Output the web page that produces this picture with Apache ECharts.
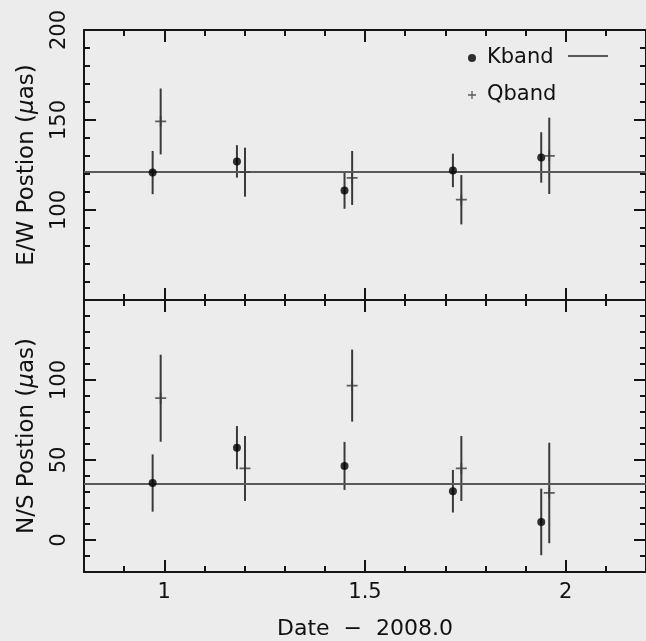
<!DOCTYPE html>
<html><head><meta charset="utf-8">
<script src="https://cdn.jsdelivr.net/npm/echarts@6/dist/echarts.min.js"></script>
<style>html,body{margin:0;padding:0;background:#ececec}#c{width:646px;height:641px}</style>
</head><body><div id="c"></div>
<script>
// ---- data ----
const kDates = [0.971, 1.181, 1.449, 1.719, 1.939];
const qDates = [0.991, 1.201, 1.468, 1.740, 1.959];
const kEW    = [120.8, 127.0, 110.9, 122.0, 129.2];
const kEWErr = [12.0, 9.0, 10.2, 9.3, 14.0];
const qEW    = [149.2, 121.0, 117.8, 105.7, 130.1];
const qEWErr = [18.3, 13.6, 15.0, 13.7, 21.2];
const kNS    = [35.6, 57.7, 46.3, 30.5, 11.3];
const kNSErr = [17.9, 13.5, 15.0, 13.3, 20.8];
const qNS    = [88.6, 44.7, 96.5, 44.7, 29.4];
const qNSErr = [27.2, 20.3, 22.5, 20.3, 31.4];
const ewFit = 121;
const nsFit = 35;
const xTickLabels = [1, 1.5, 2];
const xMajor = [1, 1.5, 2];
const ewTickLabels = [100, 150, 200];
const ewMajor = [50, 100, 150, 200];
const nsTickLabels = [0, 50, 100];
const nsMajor = [0, 50, 100, 150];

// ---- styling ----
const FONT = 'DejaVu Sans';
const AX = '#151515';
const BAR = '#3a3a3a';
const FIT = '#5a5a5a';
const PLUS = 'path://M0,4.2H10V5.8H0Z M4.2,0H5.8V10H4.2Z';

const grids = [
  {left: 84, top: 30, width: 564, height: 270},
  {left: 84, top: 300, width: 564, height: 272}
];

const xAxis = [], yAxis = [];
function addX(gi, showLabels) {
  const base = xAxis.length;
  ['bottom', 'top'].forEach(pos => {
    xAxis.push({type: 'value', gridIndex: gi, position: pos, min: 0.8, max: 2.2, interval: 0.1,
      axisLine: {show: true, onZero: false, lineStyle: {color: AX, width: 2}},
      axisTick: {show: true, inside: true, length: 6, lineStyle: {color: AX, width: 2}},
      axisLabel: {show: false}, splitLine: {show: false}});
    xAxis.push({type: 'value', gridIndex: gi, position: pos, min: 0.8, max: 2.2,
      axisLine: {show: false, onZero: false},
      axisTick: {show: true, inside: true, length: 12, customValues: xMajor, lineStyle: {color: AX, width: 2}},
      axisLabel: {show: showLabels && pos === 'bottom', customValues: xTickLabels, margin: 10,
        fontSize: 21, fontFamily: FONT, color: '#111'},
      splitLine: {show: false},
      name: (showLabels && pos === 'bottom') ? 'Date  \u2212  2008.0' : '',
      nameLocation: 'middle', nameGap: 46,
      nameTextStyle: {fontSize: 22, fontFamily: FONT, color: '#111'}});
  });
  return base;
}
function addY(gi, min, max, major, labels, title) {
  const base = yAxis.length;
  ['left', 'right'].forEach(pos => {
    yAxis.push({type: 'value', gridIndex: gi, position: pos, min: min, max: max, interval: 10,
      axisLine: {show: true, onZero: false, lineStyle: {color: AX, width: 2}},
      axisTick: {show: true, inside: true, length: 6, lineStyle: {color: AX, width: 2}},
      axisLabel: {show: false}, splitLine: {show: false},
      name: pos === 'left' ? title : '', nameLocation: 'middle', nameGap: 45, nameRotate: 90,
      nameTextStyle: {fontSize: 23, fontFamily: FONT, color: '#111',
        rich: {i: {fontSize: 23, fontFamily: FONT, fontStyle: 'italic', color: '#111'}}}});
    yAxis.push({type: 'value', gridIndex: gi, position: pos, min: min, max: max,
      axisLine: {show: false, onZero: false},
      axisTick: {show: true, inside: true, length: 12, customValues: major, lineStyle: {color: AX, width: 2}},
      axisLabel: {show: pos === 'left', customValues: labels, rotate: 90, margin: 14,
        fontSize: 21, fontFamily: FONT, color: '#111'},
      splitLine: {show: false}});
  });
  return base;
}
const x0 = addX(0, false), y0 = addY(0, 50, 200, ewMajor, ewTickLabels, 'E/W Postion ({i|\u03bc}as)');
const x1 = addX(1, true),  y1 = addY(1, -20, 150, nsMajor, nsTickLabels, 'N/S Postion ({i|\u03bc}as)');

function errRender(params, api) {
  const x = api.value(0), lo = api.value(1), hi = api.value(2);
  const p1 = api.coord([x, lo]), p2 = api.coord([x, hi]);
  return {type: 'line', shape: {x1: p1[0], y1: p1[1], x2: p2[0], y2: p2[1]},
    style: {stroke: BAR, lineWidth: 2}};
}
function errData(d, v, e) { return d.map((t, i) => [t, v[i] - e[i], v[i] + e[i]]); }
function pts(d, v) { return d.map((t, i) => [t, v[i]]); }

function panel(xi, yi, kv, ke, qv, qe, fit) {
  return [
    {type: 'custom', xAxisIndex: xi, yAxisIndex: yi, renderItem: errRender, silent: true, z: 2,
      encode: {x: 0, y: [1, 2]}, data: errData(kDates, kv, ke).concat(errData(qDates, qv, qe))},
    {type: 'scatter', name: 'Kband', xAxisIndex: xi, yAxisIndex: yi, symbol: 'circle', symbolSize: 8, z: 4,
      itemStyle: {color: '#000'}, data: pts(kDates, kv),
      markLine: {silent: true, symbol: 'none', label: {show: false}, z: 3,
        lineStyle: {color: FIT, width: 2, type: 'solid'}, data: [{yAxis: fit}]}},
    {type: 'scatter', name: 'Qband', xAxisIndex: xi, yAxisIndex: yi, symbol: PLUS, symbolSize: 11, z: 4,
      itemStyle: {color: BAR}, data: pts(qDates, qv)}
  ];
}

const option = {
  animation: false,
  backgroundColor: '#ececec',
  grid: grids,
  xAxis: xAxis,
  yAxis: yAxis,
  legend: {
    data: [{name: 'Kband', icon: 'circle'}, {name: 'Qband', icon: PLUS}],
    orient: 'vertical', left: 463, top: 41, itemWidth: 20, itemHeight: 8, itemGap: 13,
    symbolKeepAspect: true, selectedMode: false,
    textStyle: {fontSize: 21, fontFamily: FONT, color: '#111', lineHeight: 24}
  },
  graphic: [{type: 'line', shape: {x1: 568, y1: 56, x2: 608, y2: 56}, style: {stroke: FIT, lineWidth: 2}}],
  series: panel(x0, y0, kEW, kEWErr, qEW, qEWErr, ewFit).concat(panel(x1, y1, kNS, kNSErr, qNS, qNSErr, nsFit))
};
const chart = echarts.init(document.getElementById('c'), null, {renderer: 'canvas'});
chart.setOption(option);
</script>
</body></html>
